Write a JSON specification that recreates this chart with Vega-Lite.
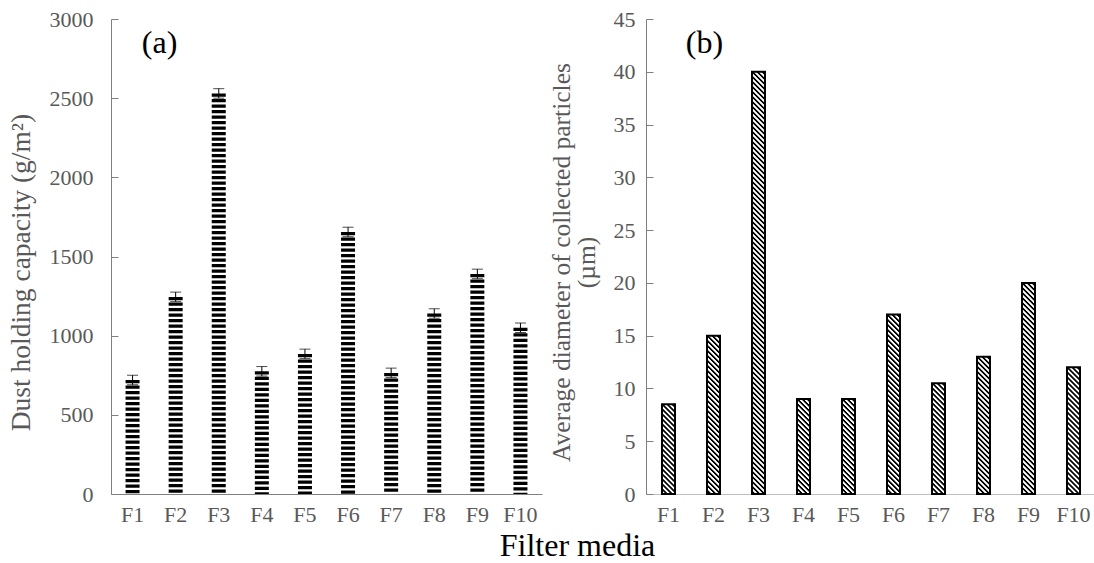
{
  "$schema": "https://vega.github.io/schema/vega-lite/v6.json",
  "background": "white",
  "padding": {"left": 7, "top": 8, "right": 0, "bottom": 5},
  "bounds": "flush",
  "spacing": 104,
  "config": {
    "font": "Liberation Serif",
    "view": {"stroke": null},
    "text": {"font": "Liberation Serif"},
    "axis": {
      "grid": false,
      "labelFont": "Liberation Serif",
      "titleFont": "Liberation Serif",
      "labelFontSize": 22,
      "titleFontSize": 25.5,
      "labelColor": "#595959",
      "titleColor": "#595959",
      "titleFontWeight": "normal",
      "domainColor": "#808080",
      "tickColor": "#808080"
    }
  },
  "title": {
    "text": "Filter media",
    "orient": "bottom",
    "anchor": "middle",
    "fontSize": 32,
    "fontWeight": "normal",
    "color": "black",
    "font": "Liberation Serif",
    "offset": 6,
    "dx": 26
  },
  "datasets": {
    "a": [
      {"f": "F1", "v": 720, "e": 30},
      {"f": "F2", "v": 1245, "e": 30},
      {"f": "F3", "v": 2530, "e": 30},
      {"f": "F4", "v": 775, "e": 30},
      {"f": "F5", "v": 885, "e": 30},
      {"f": "F6", "v": 1655, "e": 30},
      {"f": "F7", "v": 765, "e": 30},
      {"f": "F8", "v": 1140, "e": 30},
      {"f": "F9", "v": 1390, "e": 30},
      {"f": "F10", "v": 1050, "e": 30}
    ],
    "b": [
      {"f": "F1", "d": 8.5},
      {"f": "F2", "d": 15},
      {"f": "F3", "d": 40},
      {"f": "F4", "d": 9},
      {"f": "F5", "d": 9},
      {"f": "F6", "d": 17},
      {"f": "F7", "d": 10.5},
      {"f": "F8", "d": 13},
      {"f": "F9", "d": 20},
      {"f": "F10", "d": 12}
    ],
    "lab": [{"k": 1}]
  },
  "hconcat": [
    {
      "width": 431,
      "height": 475,
      "layer": [
        {
          "data": {"name": "a"},
          "mark": {"type": "rule", "strokeWidth": 14, "strokeDash": [3.3, 2.2], "color": "black"},
          "encoding": {
            "x": {
              "field": "f", "type": "nominal", "sort": null,
              "scale": {"paddingInner": 0, "paddingOuter": 0},
              "axis": {"title": null, "ticks": false, "labelAngle": 0, "labelPadding": 10}
            },
            "y": {
              "field": "v", "type": "quantitative",
              "title": "Dust holding capacity (g/m²)",
              "scale": {"domain": [0, 3000], "nice": false},
              "axis": {
                "values": [0, 500, 1000, 1500, 2000, 2500, 3000],
                "format": "d",
                "tickSize": -7,
                "labelPadding": 25,
                "titlePadding": 14,
                "titleFontSize": 27.5,
                "titleY": 253
              }
            },
            "y2": {"datum": 0}
          }
        },
        {
          "data": {"name": "a"},
          "mark": {
            "type": "errorbar",
            "color": "black",
            "thickness": 1,
            "ticks": {"size": 11, "thickness": 1, "color": "black"}
          },
          "encoding": {
            "x": {"field": "f", "type": "nominal", "sort": null},
            "y": {"field": "v", "type": "quantitative", "title": "Dust holding capacity (g/m²)"},
            "yError": {"field": "e"}
          }
        },
        {
          "data": {"name": "lab"},
          "mark": {"type": "text", "text": "(a)", "font": "Liberation Serif", "fontSize": 32, "dx": 27, "color": "black", "baseline": "middle", "align": "center"},
          "encoding": {
            "x": {"datum": "F1"},
            "y": {"datum": 2850}
          }
        }
      ]
    },
    {
      "width": 450,
      "height": 475,
      "layer": [
        {
          "data": {"name": "b"},
          "encoding": {
            "x": {
              "field": "f", "type": "nominal", "sort": null,
              "scale": {"paddingInner": 0, "paddingOuter": 0},
              "axis": {"title": null, "ticks": false, "labelAngle": 0, "labelPadding": 10, "domainColor": "#bfbfbf"}
            },
            "y": {
              "field": "d", "type": "quantitative",
              "title": ["Average diameter of collected particles", "(µm)"],
              "scale": {"domain": [0, 45], "nice": false},
              "axis": {
                "values": [0, 5, 10, 15, 20, 25, 30, 35, 40, 45],
                "tickSize": -7,
                "labelPadding": 18,
                "titlePadding": 14,
                "titleLineHeight": 25,
                "titleY": 243
              }
            }
          },
          "layer": [
            {"mark": {"type": "rule", "strokeWidth": 1, "strokeDash": [2.4, 2.6], "strokeDashOffset": 5, "xOffset": -5, "color": "black"}, "encoding": {"y2": {"datum": 0}}},
            {"mark": {"type": "rule", "strokeWidth": 1, "strokeDash": [2.4, 2.6], "strokeDashOffset": 4, "xOffset": -4, "color": "black"}, "encoding": {"y2": {"datum": 0}}},
            {"mark": {"type": "rule", "strokeWidth": 1, "strokeDash": [2.4, 2.6], "strokeDashOffset": 3, "xOffset": -3, "color": "black"}, "encoding": {"y2": {"datum": 0}}},
            {"mark": {"type": "rule", "strokeWidth": 1, "strokeDash": [2.4, 2.6], "strokeDashOffset": 2, "xOffset": -2, "color": "black"}, "encoding": {"y2": {"datum": 0}}},
            {"mark": {"type": "rule", "strokeWidth": 1, "strokeDash": [2.4, 2.6], "strokeDashOffset": 1, "xOffset": -1, "color": "black"}, "encoding": {"y2": {"datum": 0}}},
            {"mark": {"type": "rule", "strokeWidth": 1, "strokeDash": [2.4, 2.6], "strokeDashOffset": 0, "xOffset": 0, "color": "black"}, "encoding": {"y2": {"datum": 0}}},
            {"mark": {"type": "rule", "strokeWidth": 1, "strokeDash": [2.4, 2.6], "strokeDashOffset": -1, "xOffset": 1, "color": "black"}, "encoding": {"y2": {"datum": 0}}},
            {"mark": {"type": "rule", "strokeWidth": 1, "strokeDash": [2.4, 2.6], "strokeDashOffset": -2, "xOffset": 2, "color": "black"}, "encoding": {"y2": {"datum": 0}}},
            {"mark": {"type": "rule", "strokeWidth": 1, "strokeDash": [2.4, 2.6], "strokeDashOffset": -3, "xOffset": 3, "color": "black"}, "encoding": {"y2": {"datum": 0}}},
            {"mark": {"type": "rule", "strokeWidth": 1, "strokeDash": [2.4, 2.6], "strokeDashOffset": -4, "xOffset": 4, "color": "black"}, "encoding": {"y2": {"datum": 0}}},
            {"mark": {"type": "rule", "strokeWidth": 1, "strokeDash": [2.4, 2.6], "strokeDashOffset": -5, "xOffset": 5, "color": "black"}, "encoding": {"y2": {"datum": 0}}},
            {"mark": {"type": "bar", "width": 13, "fillOpacity": 0, "stroke": "black", "strokeWidth": 2}}
          ]
        },
        {
          "data": {"name": "lab"},
          "mark": {"type": "text", "text": "(b)", "font": "Liberation Serif", "fontSize": 32, "dx": 36, "color": "black", "baseline": "middle", "align": "center"},
          "encoding": {
            "x": {"datum": "F1"},
            "y": {"datum": 42.7}
          }
        }
      ]
    }
  ]
}
